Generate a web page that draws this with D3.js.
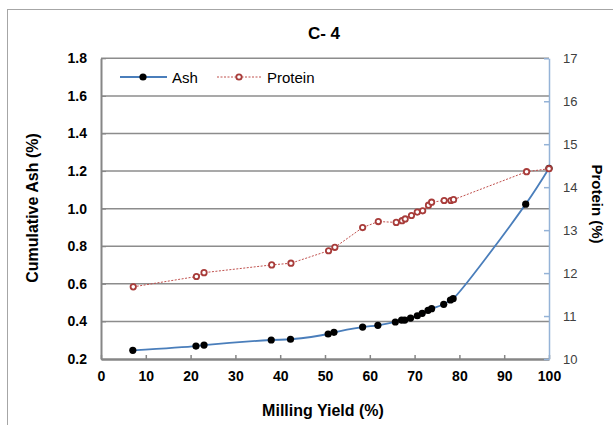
<!DOCTYPE html>
<html><head><meta charset="utf-8">
<script src="https://cdn.jsdelivr.net/npm/d3@7"></script>
<style>body{margin:0;background:#fff;} text{font-family:"Liberation Sans",Arial,sans-serif;}</style>
</head><body><svg id="c" width="613" height="425"></svg>
<script>
const title = "C- 4";
const yieldAsh = [7.1,21.2,23.0,38.0,42.3,50.7,52.0,58.4,61.8,65.7,67.1,67.8,69.1,70.6,71.7,73.0,73.8,76.5,78.0,78.6,94.8,100];
const ashValues = [0.246,0.269,0.274,0.301,0.305,0.333,0.342,0.370,0.379,0.397,0.407,0.407,0.418,0.430,0.443,0.459,0.468,0.491,0.514,0.521,1.024,1.215];
const yieldProtein = [7.2,21.3,23.0,38.1,42.4,50.8,52.2,58.4,61.9,65.9,67.2,67.9,69.3,70.6,71.8,73.1,73.8,76.6,78.1,78.7,95.0,100];
const proteinValues = [11.68,11.92,12.01,12.19,12.23,12.52,12.60,13.06,13.20,13.18,13.22,13.26,13.34,13.42,13.45,13.58,13.65,13.69,13.69,13.71,14.36,14.43];
const xTicks = [0,10,20,30,40,50,60,70,80,90,100];
const yLeftTicks = [0.2,0.4,0.6,0.8,1.0,1.2,1.4,1.6,1.8];
const yRightTicks = [10,11,12,13,14,15,16,17];

const svg = d3.select("#c");
const L=101, R=549, T=58.3, B=359;
const x = d3.scaleLinear().domain([0,100]).range([L,R]);
const yL = d3.scaleLinear().domain([0.2,1.8]).range([B,T]);
const yR = d3.scaleLinear().domain([10,17]).range([B,T]);

// outer frame
svg.append("rect").attr("x",7.5).attr("y",9.5).attr("width",640).attr("height",440)
  .attr("fill","none").attr("stroke","#a6a6a6").attr("stroke-width",1);

// gridlines
svg.append("g").selectAll("line").data(yLeftTicks.filter(d=>d>0.2)).join("line")
  .attr("x1",L).attr("x2",R).attr("y1",d=>yL(d)).attr("y2",d=>yL(d))
  .attr("stroke","#8c8c8c").attr("stroke-width",1.5);

// left axis
const gL = svg.append("g").attr("transform",`translate(${L},0)`)
  .call(d3.axisLeft(yL).tickValues(yLeftTicks).tickFormat(d3.format(".1f")).tickSizeInner(-5).tickSizeOuter(0).tickPadding(14));
gL.select(".domain").attr("stroke","#868686").attr("stroke-width",2);
gL.selectAll(".tick line").attr("stroke","#868686");
gL.selectAll("text").attr("font-size",14).attr("font-weight","bold").attr("fill","#000");

// bottom axis
const gB = svg.append("g").attr("transform",`translate(0,${B})`)
  .call(d3.axisBottom(x).tickValues(xTicks).tickSizeInner(-4).tickSizeOuter(0).tickPadding(12));
gB.select(".domain").attr("stroke","#868686").attr("stroke-width",2.5);
gB.selectAll(".tick line").attr("stroke","#868686").attr("stroke-width",1.5);
gB.selectAll("text").attr("font-size",14).attr("font-weight","bold").attr("fill","#000");

// right axis
const gR = svg.append("g").attr("transform",`translate(${R},0)`)
  .call(d3.axisRight(yR).tickValues(yRightTicks).tickFormat(d3.format("d")).tickSizeInner(-5).tickSizeOuter(0).tickPadding(14));
gR.select(".domain").attr("stroke","#95b3d7").attr("stroke-width",1.5);
gR.selectAll(".tick line").attr("stroke","#95b3d7").attr("stroke-width",1.5);
gR.selectAll("text").attr("font-size",13).attr("fill","#404040");

// protein line
const protPts = yieldProtein.map((v,i)=>[v,proteinValues[i]]);
svg.append("path").datum(protPts)
  .attr("d",d3.line().x(d=>x(d[0])).y(d=>yR(d[1])))
  .attr("fill","none").attr("stroke","#c0504d").attr("stroke-width",1).attr("stroke-dasharray","2,1.5");

// ash line
const ashPts = yieldAsh.map((v,i)=>[v,ashValues[i]]);
svg.append("path").datum(ashPts)
  .attr("d",d3.line().curve(d3.curveCatmullRom.alpha(0.5)).x(d=>x(d[0])).y(d=>yL(d[1])))
  .attr("fill","none").attr("stroke","#4a7ebb").attr("stroke-width",1.8);

svg.append("g").selectAll("circle").data(ashPts).join("circle")
  .attr("cx",d=>x(d[0])).attr("cy",d=>yL(d[1])).attr("r",3.6).attr("fill","#000");

svg.append("g").selectAll("circle").data(protPts).join("circle")
  .attr("cx",d=>x(d[0])).attr("cy",d=>yR(d[1])).attr("r",2.7)
  .attr("fill","#fff").attr("stroke","#a83c3a").attr("stroke-width",1.8);

// legend
const lg = svg.append("g");
lg.append("line").attr("x1",120).attr("x2",167).attr("y1",77).attr("y2",77).attr("stroke","#4a7ebb").attr("stroke-width",1.8);
lg.append("circle").attr("cx",143).attr("cy",77).attr("r",3.6).attr("fill","#000");
lg.append("text").attr("x",172).attr("y",82.5).attr("font-size",15).attr("fill","#000").text("Ash");
lg.append("line").attr("x1",217).attr("x2",261).attr("y1",77).attr("y2",77).attr("stroke","#c0504d").attr("stroke-width",1).attr("stroke-dasharray","2,1.5");
lg.append("circle").attr("cx",239).attr("cy",77).attr("r",2.7).attr("fill","#fff").attr("stroke","#a83c3a").attr("stroke-width",1.8);
lg.append("text").attr("x",267).attr("y",82.5).attr("font-size",15).attr("fill","#000").text("Protein");

// titles
svg.append("text").attr("x",324).attr("y",39).attr("text-anchor","middle").attr("font-size",17).attr("font-weight","bold").text(title);
svg.append("text").attr("x",323).attr("y",416).attr("text-anchor","middle").attr("font-size",16).attr("font-weight","bold").text("Milling Yield (%)");
svg.append("text").attr("transform","translate(38,208) rotate(-90)").attr("text-anchor","middle").attr("font-size",16).attr("font-weight","bold").text("Cumulative Ash (%)");
svg.append("text").attr("transform","translate(592,204) rotate(90)").attr("text-anchor","middle").attr("font-size",15).attr("font-weight","bold").text("Protein (%)");
</script></body></html>
